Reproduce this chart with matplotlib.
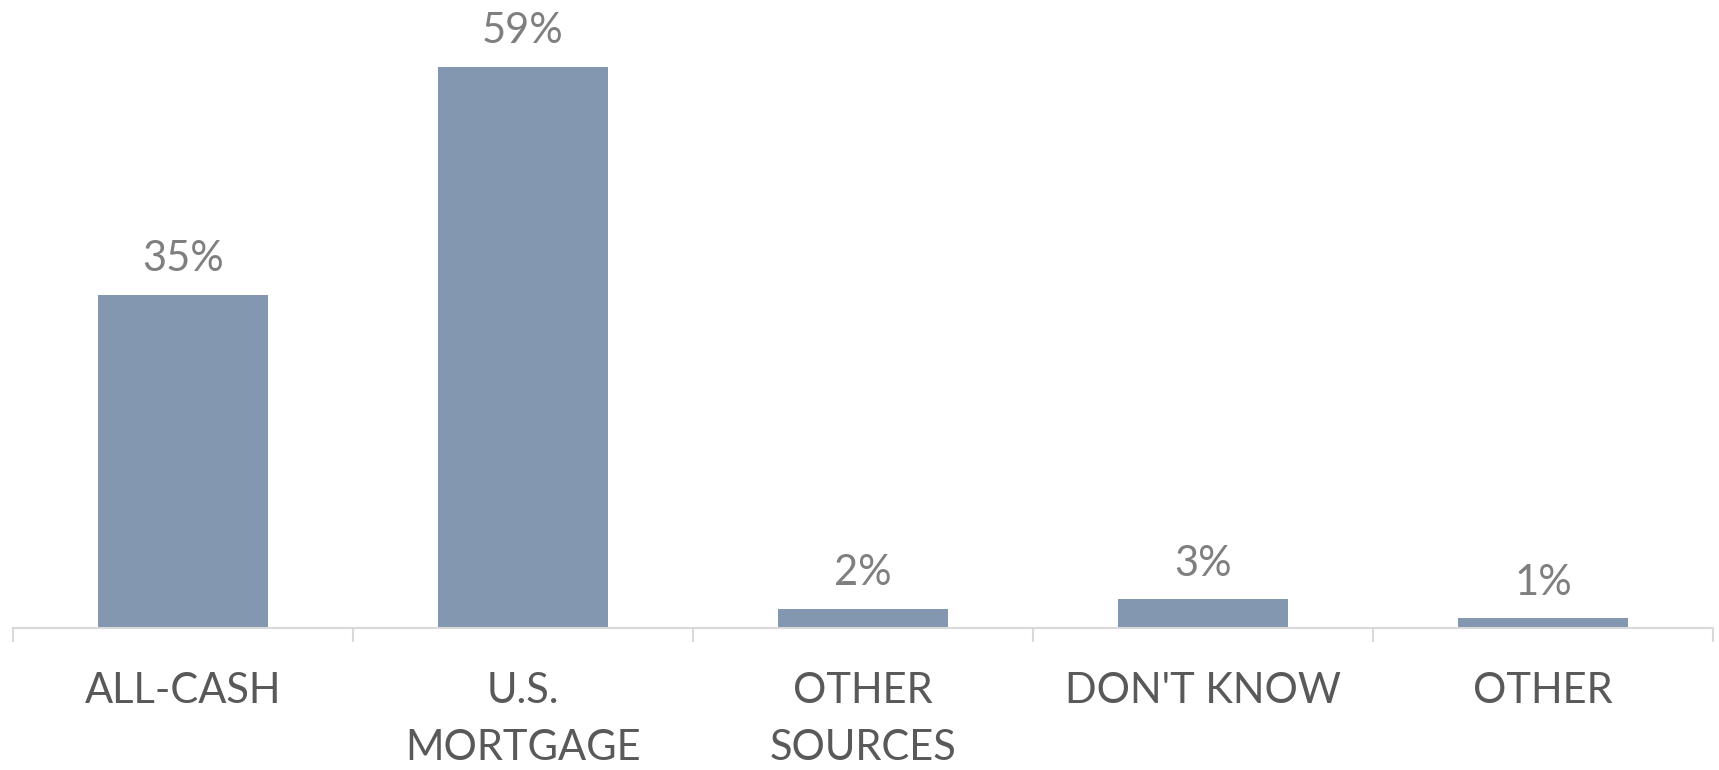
import matplotlib
matplotlib.use("Agg")
import matplotlib.pyplot as plt

categories = ["ALL-CASH", "U.S.\nMORTGAGE", "OTHER\nSOURCES", "DON'T KNOW", "OTHER"]
shares = [35, 59, 2, 3, 1]
value_labels = ["35%", "59%", "2%", "3%", "1%"]

bar_color = "#8497b0"
axis_color = "#d9d9d9"

plt.rcParams["font.family"] = ["Lato", "DejaVu Sans"]

fig = plt.figure(figsize=(17.19, 7.7), dpi=100)
ax = fig.add_axes([13 / 1719, 142 / 770, 1700 / 1719, 628 / 770])

x = list(range(len(categories)))
bars = ax.bar(x, shares, width=0.5, color=bar_color, zorder=2)

for rect, lab in zip(bars, value_labels):
    ax.annotate(lab, (rect.get_x() + rect.get_width() / 2, rect.get_height()),
                xytext=(0, 12), textcoords="offset points",
                ha="center", va="bottom", fontsize=30, color="#7f7f7f")

ax.set_xlim(-0.5, len(categories) - 0.5)
ax.set_ylim(0, 66)

for side in ["left", "right", "top"]:
    ax.spines[side].set_visible(False)
ax.spines["bottom"].set_color(axis_color)
ax.spines["bottom"].set_linewidth(1.5)
ax.set_yticks([])

# category labels on major ticks, separators on minor ticks
ax.set_xticks(x)
ax.set_xticklabels(categories, fontsize=30, color="#595959", linespacing=1.6)
ax.tick_params(axis="x", which="major", length=0, pad=32)
ax.set_xticks([i - 0.5 for i in range(len(categories) + 1)], minor=True)
ax.tick_params(axis="x", which="minor", length=10, width=1.5, color=axis_color, direction="out")

fig.savefig("out.png", dpi=100)
